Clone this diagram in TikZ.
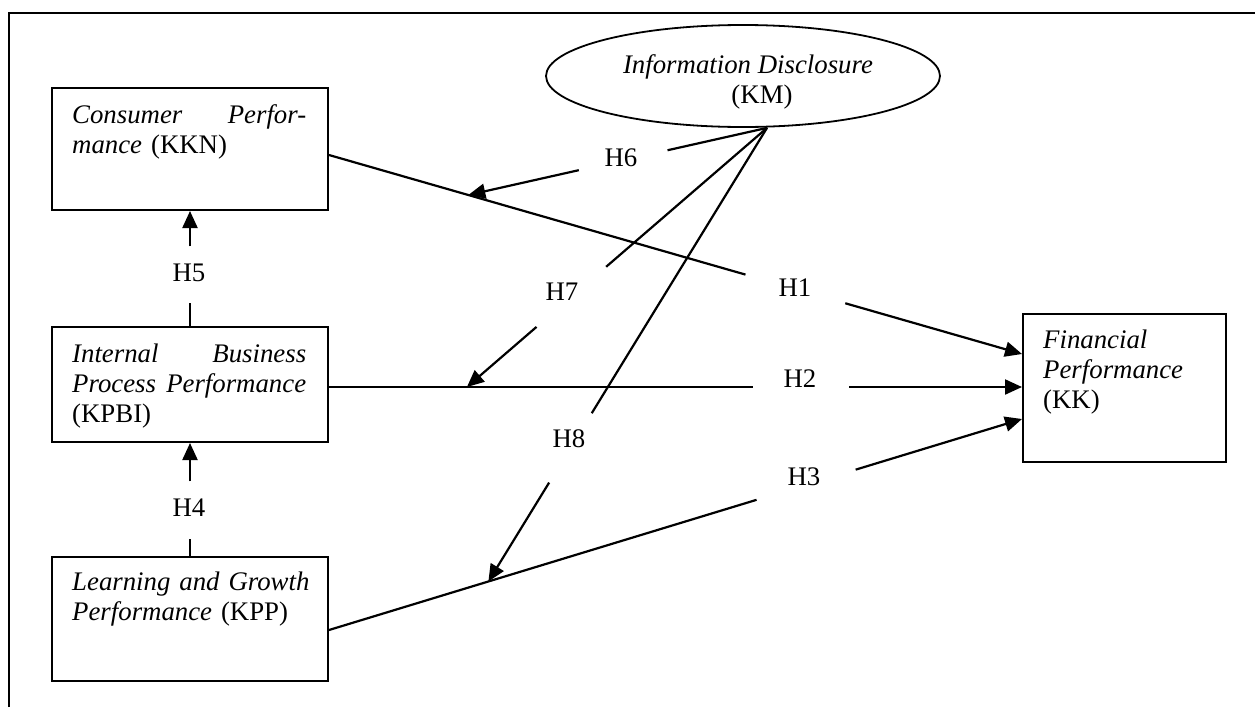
\documentclass[tikz,border=0pt]{standalone}
\usepackage{fontspec}
\setmainfont{Liberation Serif}
\usetikzlibrary{shapes.geometric,arrows.meta,calc}
\begin{document}
\begin{tikzpicture}[x=1pt,y=-1pt,
  font=\fontsize{26.8}{30}\selectfont,
  box/.style={draw, line width=2pt, inner sep=0pt, anchor=north west},
  boxtext/.style={anchor=north west, inner sep=0pt, align=left},
  hlabel/.style={inner sep=0pt},
  conn/.style={line width=2.2pt},
  arr/.style={conn, -{Triangle[length=17pt,width=15pt]}},
]
\useasboundingbox (0,0) rectangle (1255,707);
\draw[line width=2.6pt] (9,707) -- (9,13) -- (1255,13);

% boxes
\node[box, minimum width=276pt, minimum height=122pt] (KKN) at (51,87) {};
\node[box, minimum width=276pt, minimum height=115pt] (KPBI) at (51,326) {};
\node[box, minimum width=276pt, minimum height=124pt] (KPP) at (51,556) {};
\node[box, minimum width=203pt, minimum height=148pt] (KK) at (1022,313) {};
\node[draw, ellipse, line width=1.8pt, minimum width=394pt, minimum height=102pt, inner sep=0pt] (KM) at (743,76) {};

% box texts
\node[boxtext, text width=234pt] (tKKN) at (72,102)
  {\strut\textit{Consumer}\hfill\textit{Perfor-}\\\textit{mance} (KKN)};
\node[boxtext, text width=234pt] (tKPBI) at (72,341)
  {\strut\textit{Internal}\hfill\textit{Business}\\\textit{Process}\hfill\textit{Performance}\\(KPBI)};
\node[boxtext, text width=240pt] (tKPP) at (72,569)
  {\strut\textit{Learning and Growth}\\\textit{Performance} (KPP)};
\node[boxtext, text width=170pt] (tKK) at (1043,327)
  {\strut\textit{Financial}\\\textit{Performance}\\(KK)};
\node[anchor=north, inner sep=0pt, align=center] (tKM) at (748,52)
  {\strut\textit{Information Disclosure}\\\hspace*{28pt}(KM)};

% labels
\node[hlabel] (H1) at (795,288) {H1};
\node[hlabel] (H2) at (800,379) {H2};
\node[hlabel] (H3) at (804,477) {H3};
\node[hlabel] (H4) at (189,508) {H4};
\node[hlabel] (H5) at (189,273) {H5};
\node[hlabel] (H6) at (621,158) {H6};
\node[hlabel] (H7) at (562,292) {H7};
\node[hlabel] (H8) at (569,439) {H8};

% end points
\coordinate (apex) at ([xshift=24pt]KM.south);
\coordinate (s1) at ([yshift=-6pt]KKN.east);
\coordinate (e1) at ([yshift=34pt]KK.west);
\coordinate (s2) at ([yshift=-2.5pt]KPBI.east);
\coordinate (e2) at ([yshift=1pt]KK.west);
\coordinate (s3) at ([yshift=-11pt]KPP.east);
\coordinate (e3) at ([yshift=-31pt]KK.west);
\coordinate (t6) at ($(s1)!0.201!(e1)$);
\coordinate (t7) at ($(s2)!0.199!(e2)$);
\coordinate (t8) at ($(s3)!0.230!(e3)$);

% gap ends
\coordinate (g1a) at ($(s1)!0.601!(e1)$);
\coordinate (g1b) at ($(s1)!0.745!(e1)$);
\coordinate (g2a) at ($(s2)!0.6115!(e2)$);
\coordinate (g2b) at ($(s2)!0.751!(e2)$);
\coordinate (g3a) at ($(s3)!0.617!(e3)$);
\coordinate (g3b) at ($(s3)!0.760!(e3)$);
\coordinate (g4a) at ($(KPP.north)!0.148!(KPBI.south)$);
\coordinate (g4b) at ($(KPP.north)!0.661!(KPBI.south)$);
\coordinate (g5a) at ($(KPBI.north)!0.197!(KKN.south)$);
\coordinate (g5b) at ($(KPBI.north)!0.692!(KKN.south)$);
\coordinate (g6a) at ($(apex)!0.333!(t6)$);
\coordinate (g6b) at ($(apex)!0.630!(t6)$);
\coordinate (g7a) at ($(apex)!0.536!(t7)$);
\coordinate (g7b) at ($(apex)!0.768!(t7)$);
\coordinate (g8a) at ($(apex)!0.629!(t8)$);
\coordinate (g8b) at ($(apex)!0.782!(t8)$);

% connectors
\draw[conn] (s1) -- (g1a);
\draw[arr] (g1b) -- (e1);
\draw[conn] (s2) -- (g2a);
\draw[arr] (g2b) -- (e2);
\draw[conn] (s3) -- (g3a);
\draw[arr] (g3b) -- (e3);
\draw[conn] (KPP.north) -- (g4a);
\draw[arr] (g4b) -- (KPBI.south);
\draw[conn] (KPBI.north) -- (g5a);
\draw[arr] (g5b) -- (KKN.south);
\draw[conn] (apex) -- (g6a);
\draw[arr] (g6b) -- (t6);
\draw[conn] (apex) -- (g7a);
\draw[arr] (g7b) -- (t7);
\draw[conn] (apex) -- (g8a);
\draw[arr] (g8b) -- (t8);
\end{tikzpicture}
\end{document}
